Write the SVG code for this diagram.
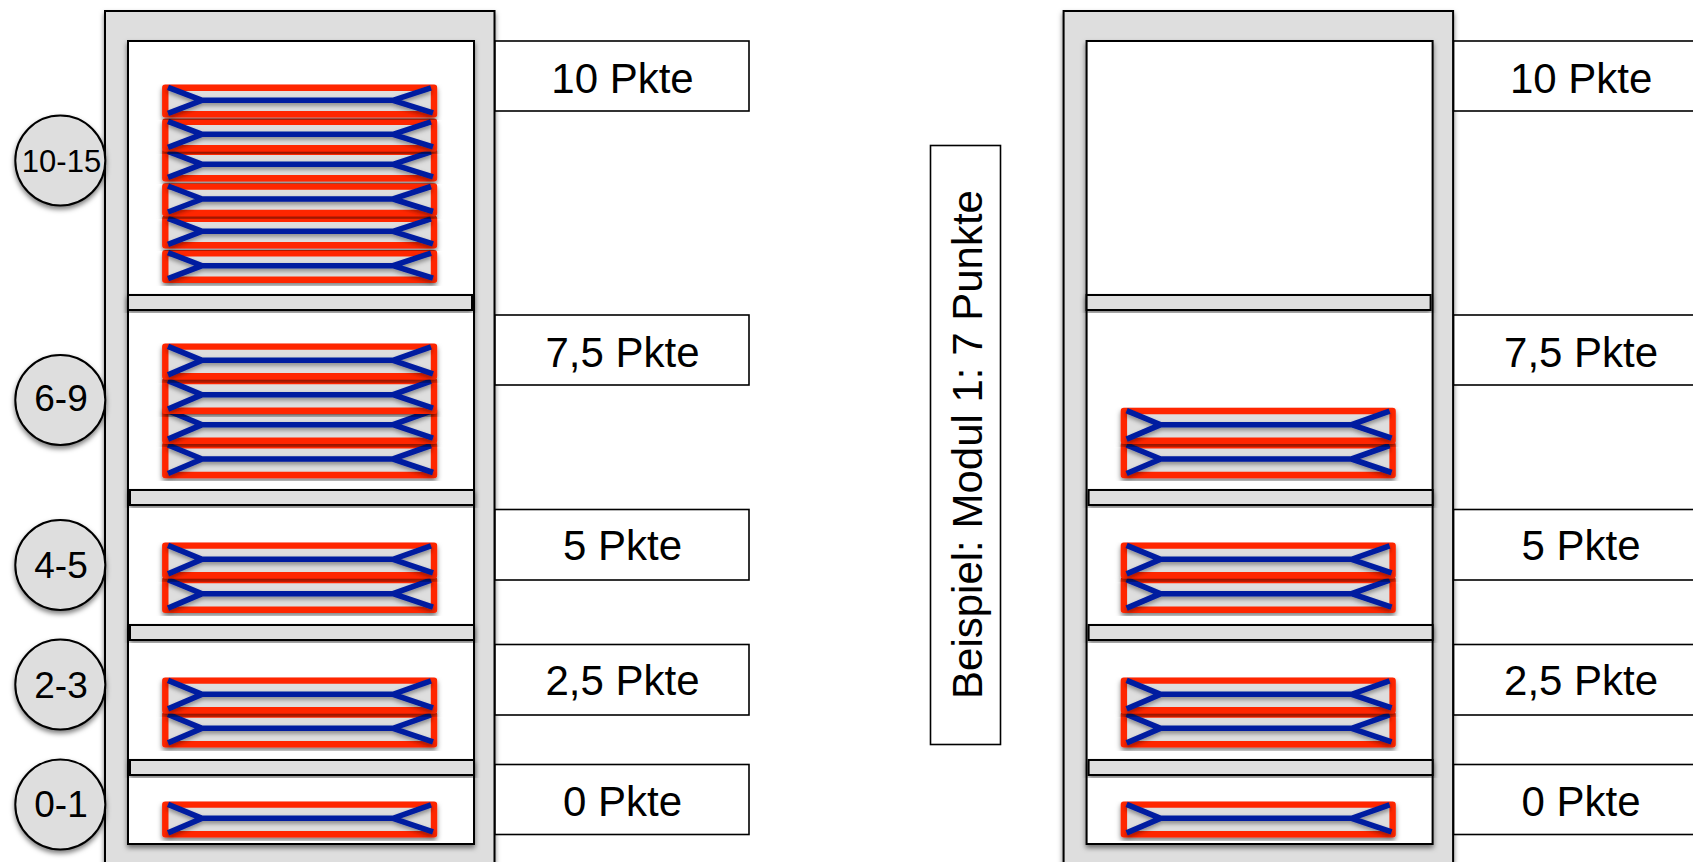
<svg xmlns="http://www.w3.org/2000/svg" width="1693" height="862" viewBox="0 0 1693 862">
<style>
text{font-family:"Liberation Sans",Arial,sans-serif;fill:#000;font-size:42px;text-anchor:middle}
.box{fill:#fff;stroke:#000;stroke-width:1.6}
.frame{fill:#dedede;stroke:#000;stroke-width:2;filter:url(#sh)}
.inner{fill:#fff;stroke:#000;stroke-width:2;filter:url(#sh)}
.shelf{fill:#dedede;stroke:#000;stroke-width:2;filter:url(#sh)}
.circ{fill:#dedede;stroke:#000;stroke-width:2;filter:url(#sh)}
.coilbox{fill:#dedede;stroke:#ff2600;stroke-width:6.4;stroke-linejoin:round}
.coilline{fill:none;stroke:#001ea0;stroke-width:5.6;stroke-linejoin:miter;filter:url(#sh2)}
.circ-t{font-size:37px}
</style>
<defs>
<filter id="sh" x="-10%" y="-10%" width="120%" height="130%"><feDropShadow dx="0" dy="3" stdDeviation="2.5" flood-color="#000" flood-opacity="0.5"/></filter>
<filter id="sh2" x="-5%" y="-30%" width="110%" height="170%"><feDropShadow dx="0" dy="2.5" stdDeviation="2" flood-color="#000" flood-opacity="0.4"/></filter>
<g id="coilA" filter="url(#sh)">
<rect class="coilbox" x="165.3" y="-12.5" width="268.7" height="26.5"/>
<path class="coilline" d="M168 -13L202 0L168 13M202 0H393L431 -12.5M393 0L433 12.5"/>
</g>
<g id="coilB" filter="url(#sh)">
<rect class="coilbox" x="165.3" y="-13.7" width="268.7" height="29.7"/>
<path class="coilline" d="M168 -14L202 0L168 14.5M202 0H393L431 -13.5M393 0L433 13.5"/>
</g>
<g id="stackLow">
<use href="#coilB" y="593.7"/><use href="#coilB" y="559.3"/>
<use href="#coilB" y="728.3"/><use href="#coilB" y="694.3"/>
<use href="#coilB" y="818.3"/>
</g>
</defs>
<g id="connectors"/>
<g id="left-cabinet">
<rect class="frame" x="105" y="11" width="389.5" height="870"/>
<rect class="inner" x="128" y="41" width="346" height="803"/>
<use href="#coilA" y="265.7"/><use href="#coilA" y="231.3"/><use href="#coilA" y="199"/><use href="#coilA" y="164.3"/><use href="#coilA" y="134.3"/><use href="#coilA" y="100.3"/>
<use href="#coilB" y="459"/><use href="#coilB" y="424.7"/><use href="#coilB" y="394.7"/><use href="#coilB" y="360.3"/>
<use href="#stackLow"/>
<rect class="shelf" x="128" y="295" width="344" height="15"/>
<rect class="shelf" x="130" y="490" width="344" height="15"/>
<rect class="shelf" x="130" y="625" width="344" height="15"/>
<rect class="shelf" x="130" y="760" width="344" height="15"/>
</g>
<g id="left-ranges">
<g id="r1015"><circle class="circ" cx="60.3" cy="160.5" r="45"/><text class="circ-t" style="font-size:31px" x="61.5" y="171.5">10-15</text></g>
<g id="r69"><circle class="circ" cx="60.3" cy="400" r="45"/><text class="circ-t" x="61" y="411">6-9</text></g>
<g id="r45"><circle class="circ" cx="60.3" cy="565" r="45"/><text class="circ-t" x="61" y="578">4-5</text></g>
<g id="r23"><circle class="circ" cx="60.3" cy="684.5" r="45"/><text class="circ-t" x="61" y="698">2-3</text></g>
<g id="r01"><circle class="circ" cx="60.3" cy="804.5" r="45"/><text class="circ-t" x="61" y="817">0-1</text></g>
</g>
<g id="left-labels">
<g id="l10"><rect class="box" x="495" y="41" width="254" height="70"/><text x="622.5" y="92.5">10 Pkte</text></g>
<g id="l75"><rect class="box" x="495" y="315" width="254" height="70"/><text x="622.5" y="366.5">7,5 Pkte</text></g>
<g id="l5"><rect class="box" x="495" y="509.5" width="254" height="70.5"/><text x="622.5" y="560">5 Pkte</text></g>
<g id="l25"><rect class="box" x="495" y="644.5" width="254" height="70.5"/><text x="622.5" y="695">2,5 Pkte</text></g>
<g id="l0"><rect class="box" x="495" y="764.5" width="254" height="70"/><text x="622.5" y="815.5">0 Pkte</text></g>
</g>
<g id="example">
<rect class="box" x="930.5" y="145.5" width="70" height="599"/>
<text transform="translate(982 444.5) rotate(-90)">Beispiel: Modul 1: 7 Punkte</text>
</g>
<g id="right-cabinet" transform="translate(958.6 0)">
<rect class="frame" x="105" y="11" width="389.5" height="870"/>
<rect class="inner" x="128" y="41" width="346" height="803"/>
<use href="#coilB" y="459"/><use href="#coilB" y="424.7"/>
<use href="#stackLow"/>
<rect class="shelf" x="128" y="295" width="344" height="15"/>
<rect class="shelf" x="130" y="490" width="344" height="15"/>
<rect class="shelf" x="130" y="625" width="344" height="15"/>
<rect class="shelf" x="130" y="760" width="344" height="15"/>
</g>
<g id="right-labels" transform="translate(958.6 0)">
<g id="rl10"><rect class="box" x="495" y="41" width="254" height="70"/><text x="622.5" y="92.5">10 Pkte</text></g>
<g id="rl75"><rect class="box" x="495" y="315" width="254" height="70"/><text x="622.5" y="366.5">7,5 Pkte</text></g>
<g id="rl5"><rect class="box" x="495" y="509.5" width="254" height="70.5"/><text x="622.5" y="560">5 Pkte</text></g>
<g id="rl25"><rect class="box" x="495" y="644.5" width="254" height="70.5"/><text x="622.5" y="695">2,5 Pkte</text></g>
<g id="rl0"><rect class="box" x="495" y="764.5" width="254" height="70"/><text x="622.5" y="815.5">0 Pkte</text></g>
</g>
</svg>
